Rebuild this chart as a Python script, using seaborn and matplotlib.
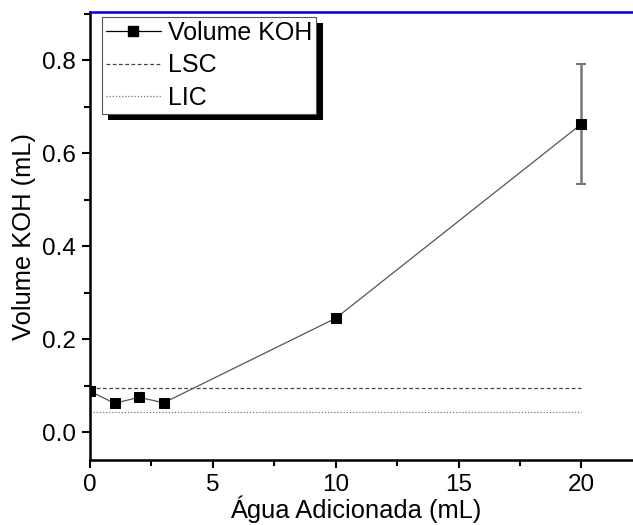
import matplotlib
matplotlib.use("Agg")
import matplotlib.pyplot as plt
import matplotlib.patheffects as pe
from matplotlib.lines import Line2D
from matplotlib.ticker import MultipleLocator
import seaborn as sns
import pandas as pd

agua = [0, 1, 2, 3, 10, 20]
volume_koh = [0.088, 0.062, 0.075, 0.063, 0.245, 0.663]
erro = [0, 0, 0, 0, 0, 0.13]
lsc = 0.096
lic = 0.043
lim_x = [0, 20]

sns.set_style("ticks")
plt.rcParams['font.family'] = ['Liberation Sans', 'DejaVu Sans']
plt.rcParams['text.color'] = 'black'
plt.rcParams['axes.labelcolor'] = 'black'
plt.rcParams['xtick.color'] = 'black'
plt.rcParams['ytick.color'] = 'black'

fig = plt.figure(figsize=(6.33, 5.25), dpi=100)
ax = fig.add_axes([90/633, 1 - 460/525, 1 - 90/633, (460 - 12)/525])

df = pd.DataFrame({"agua": agua, "vol": volume_koh})
ax.errorbar(agua, volume_koh, yerr=erro, fmt='none', ecolor='#777777',
            elinewidth=1.8, capsize=3.5, capthick=1.5, zorder=2)
sns.lineplot(data=df, x="agua", y="vol", ax=ax, color='#555555', linewidth=0.9,
             marker='s', markersize=7.5, markerfacecolor='black',
             markeredgecolor='black', zorder=3)
ax.plot(lim_x, [lsc, lsc], color='#444444', linestyle=(0, (3, 2)), linewidth=0.9)
ax.plot(lim_x, [lic, lic], color='#777777', linestyle=(0, (1, 1.5)), linewidth=0.9)

ax.set_xlim(0, 22.1)
ax.set_ylim(-0.06, 0.904)
ax.xaxis.set_major_locator(MultipleLocator(5))
ax.xaxis.set_minor_locator(MultipleLocator(2.5))
ax.yaxis.set_major_locator(MultipleLocator(0.2))
ax.yaxis.set_minor_locator(MultipleLocator(0.1))
ax.tick_params(axis='both', which='major', direction='out', length=6, width=1.5,
               labelsize=17.5, color='black', labelcolor='black', pad=4)
ax.tick_params(axis='both', which='minor', direction='out', length=4, width=1.5,
               color='black')
ax.set_yticks([0.0, 0.2, 0.4, 0.6, 0.8])
ax.set_yticklabels(["0.0", "0.2", "0.4", "0.6", "0.8"])
ax.set_xlabel("Água Adicionada (mL)", fontsize=18.4)
ax.set_ylabel("Volume KOH (mL)", fontsize=18.4)
ax.xaxis.set_label_coords(0.49, -0.079)
ax.yaxis.set_label_coords(-0.1, 0.5)

for s in ['left', 'bottom']:
    ax.spines[s].set_linewidth(1.8)
    ax.spines[s].set_color('black')
ax.spines['right'].set_visible(False)
ax.spines['top'].set_color('#0000dd')
ax.spines['top'].set_linewidth(1.8)

handles = [
    Line2D([], [], color='black', linewidth=0.9, marker='s', markersize=7,
           markerfacecolor='black'),
    Line2D([], [], color='#444444', linestyle=(0, (3, 2)), linewidth=0.9),
    Line2D([], [], color='#777777', linestyle=(0, (1, 1.5)), linewidth=0.9),
]
leg = ax.legend(handles, ["Volume KOH", "LSC", "LIC"], loc='upper left',
                bbox_to_anchor=(0.022, 0.989), borderaxespad=0, fontsize=18,
                fancybox=False, framealpha=1, edgecolor='#555555',
                handlelength=2.2, handletextpad=0.3, borderpad=0.15,
                labelspacing=0.35)
leg.get_frame().set_linewidth(0.8)
leg.get_frame().set_path_effects([
    pe.SimplePatchShadow(offset=(4.5, -4.5), shadow_rgbFace='black', alpha=1),
    pe.Normal()])

fig.savefig("out.png", dpi=100)
